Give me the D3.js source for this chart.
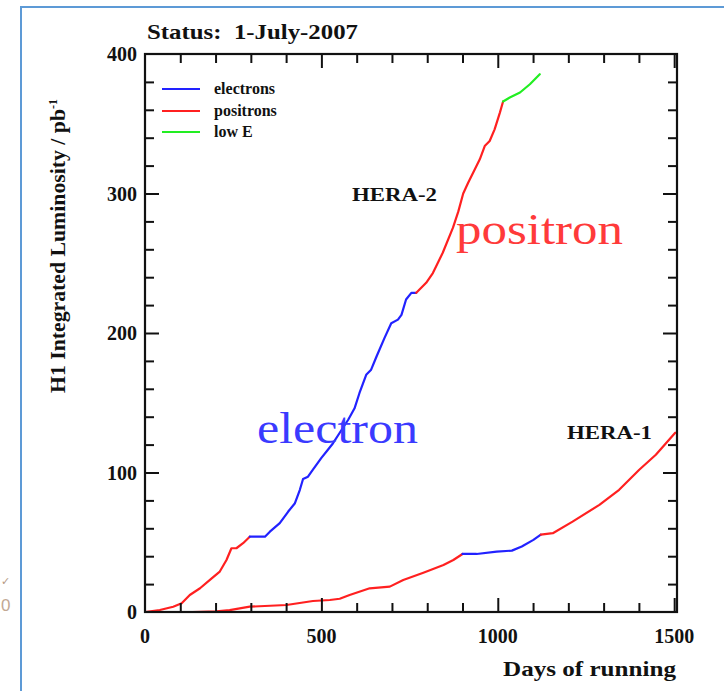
<!DOCTYPE html>
<html>
<head>
<meta charset="utf-8">
<script src="https://cdn.jsdelivr.net/npm/d3@7"></script>
<style>
  html, body { margin: 0; padding: 0; background: #ffffff; }
  svg { display: block; }
</style>
</head>
<body>
<script>
// ---------------- data ----------------
// [days of running, integrated luminosity (pb^-1)]
const hera2PositronsA = [[0,0],[42,1.4],[80,3.8],[104,6.2],[127,12.2],[156,17],[184,23],[212,29],[231,37.3],[245,45.7],[259,45.7],[278,49.3],[297,54]];
const hera2Electrons = [[297,54],[340,54],[354,57.6],[382,63.7],[406,72],[425,78],[439,87.6],[448,95.3],[462,97],[476,102],[500,110.5],[519,116.5],[533,121],[552,128.5],[576,137.8],[594,146],[608,157],[627,170],[641,173.7],[656,183],[679,196.5],[698,207],[717,209.6],[727,213],[740,224],[755,228.8],[769,228.8]];
const hera2PositronsB = [[769,228.8],[797,236],[816,243],[844,257.5],[873,275.5],[888,287],[902,300],[916,307.7],[935,317.3],[949,324.5],[963,334],[977,337.6],[991,346],[1006,358],[1015,366]];
const hera2LowE = [[1015,366],[1034,368.8],[1063,372.4],[1091,378.3],[1119,385.5]];

const hera1ElectronsA = [[0,0],[135,0]];
const hera1PositronsA = [[135,0],[203,0.5],[240,1.4],[297,3.8],[401,5],[476,7.9],[524,8.6],[552,9.5],[580,12.2],[637,17],[694,18.2],[732,23],[789,28.2],[846,33.7],[874,37.3],[900,41.6]];
const hera1ElectronsB = [[900,41.6],[940,41.6],[997,43.3],[1040,44],[1068,46.9],[1101,51.7],[1122,55.5]];
const hera1PositronsB = [[1122,55.5],[1156,56.5],[1212,64.8],[1288,76.8],[1344,87.6],[1401,102],[1448,112.7],[1503,128.5]];

const xMajorTicks = [0, 500, 1000, 1500];
const yMajorTicks = [0, 100, 200, 300, 400];
const legendLabels = ["electrons", "positrons", "low E"];
const titleText = "Status:\u00a0 1-July-2007";
const xTitle = "Days of running";
const yTitle = "H1 Integrated Luminosity / pb";

// ---------------- layout ----------------
const W = 724, H = 691;
const colors = { electrons: "#2222ff", positrons: "#ff2020", lowE: "#22ee22" };

const svg = d3.select("body").append("svg")
  .attr("width", W).attr("height", H)
  .attr("viewBox", `0 0 ${W} ${H}`);

svg.append("rect").attr("width", W).attr("height", H).attr("fill", "#fff");

// outer light-blue frame (slide border)
svg.append("path")
  .attr("d", `M${W + 5},7 H21 V${H + 5}`)
  .attr("fill", "none").attr("stroke", "#5d9ad6").attr("stroke-width", 2);

// stray glyphs at far left (neighbouring content)
svg.append("text").attr("x", 1).attr("y", 585).text("\u2713")
  .attr("font-family", "DejaVu Sans").attr("font-size", 11).attr("fill", "#b69a86");
svg.append("text").attr("x", 1).attr("y", 611).text("0")
  .attr("font-family", "Liberation Sans").attr("font-size", 17).attr("fill", "#c2a894");

const x = d3.scaleLinear().domain([0, 1508]).range([145, 677]);
const y = d3.scaleLinear().domain([0, 400]).range([612, 54]);

const serif = "'Liberation Serif', 'Times New Roman', serif";

// curves
const line = d3.line().x(d => x(d[0])).y(d => y(d[1]));
const segs = [
  [hera1ElectronsA, colors.electrons, 0.45],
  [hera2PositronsA, colors.positrons, 1],
  [hera2Electrons, colors.electrons, 1],
  [hera2PositronsB, colors.positrons, 1],
  [hera2LowE, colors.lowE, 1],
  [hera1PositronsA, colors.positrons, 1],
  [hera1ElectronsB, colors.electrons, 1],
  [hera1PositronsB, colors.positrons, 1]
];
svg.append("g").selectAll("path").data(segs).join("path")
  .attr("d", d => line(d[0]))
  .attr("fill", "none")
  .attr("stroke", d => d[1])
  .attr("stroke-opacity", d => d[2])
  .attr("stroke-width", 2.2)
  .attr("stroke-linejoin", "round")
  .attr("stroke-linecap", "round");

// frame with inward ticks on all four sides
svg.append("rect")
  .attr("x", x(0)).attr("y", y(400))
  .attr("width", x.range()[1] - x(0)).attr("height", y(0) - y(400))
  .attr("fill", "none").attr("stroke", "#111").attr("stroke-width", 2.2);

const majorLen = 14, minorLen = 9;
const xTicksAll = d3.range(0, 1501, 100);
const yTicksAll = d3.range(0, 401, 20);

const gB = svg.append("g").attr("transform", `translate(0,${y(0)})`)
  .call(d3.axisBottom(x).tickValues(xTicksAll).tickFormat("").tickSizeOuter(0));
const gT = svg.append("g").attr("transform", `translate(0,${y(400)})`)
  .call(d3.axisTop(x).tickValues(xTicksAll).tickFormat("").tickSizeOuter(0));
const gL = svg.append("g").attr("transform", `translate(${x(0)},0)`)
  .call(d3.axisLeft(y).tickValues(yTicksAll).tickFormat("").tickSizeOuter(0));
const gR = svg.append("g").attr("transform", `translate(${x.range()[1]},0)`)
  .call(d3.axisRight(y).tickValues(yTicksAll).tickFormat("").tickSizeOuter(0));

[gB, gT, gL, gR].forEach(g => {
  g.select(".domain").remove();
  g.selectAll(".tick line").attr("stroke", "#111").attr("stroke-width", 2);
});
gB.selectAll(".tick line").attr("y2", d => d % 500 === 0 ? -majorLen : -minorLen);
gT.selectAll(".tick line").attr("y2", d => d % 500 === 0 ? majorLen : minorLen);
gL.selectAll(".tick line").attr("x2", d => d % 100 === 0 ? majorLen : minorLen);
gR.selectAll(".tick line").attr("x2", d => d % 100 === 0 ? -majorLen : -minorLen);
gL.selectAll(".tick").filter(d => d === 0 || d === 400).remove();
gR.selectAll(".tick").filter(d => d === 0 || d === 400).remove();
gB.selectAll(".tick").filter(d => d === 0).remove();
gT.selectAll(".tick").filter(d => d === 0).remove();

// tick labels
svg.append("g").selectAll("text").data(xMajorTicks).join("text")
  .attr("x", d => x(d)).attr("y", 643)
  .attr("text-anchor", "middle")
  .attr("font-family", serif).attr("font-weight", "bold").attr("font-size", 20)
  .attr("fill", "#111").text(d => d);
svg.append("g").selectAll("text").data(yMajorTicks).join("text")
  .attr("x", 137).attr("y", d => y(d) + 7)
  .attr("text-anchor", "end")
  .attr("font-family", serif).attr("font-weight", "bold").attr("font-size", 20)
  .attr("fill", "#111").text(d => d);

// titles
svg.append("text").attr("x", 147).attr("y", 39)
  .attr("font-family", serif).attr("font-weight", "bold").attr("font-size", 21)
  .attr("textLength", 211).attr("lengthAdjust", "spacingAndGlyphs")
  .attr("fill", "#111").text(titleText);

svg.append("text").attr("x", 503).attr("y", 676)
  .attr("font-family", serif).attr("font-weight", "bold").attr("font-size", 22)
  .attr("textLength", 173).attr("lengthAdjust", "spacingAndGlyphs")
  .attr("fill", "#111").text(xTitle);

const yt = svg.append("text")
  .attr("transform", `translate(65,${393}) rotate(-90)`)
  .attr("font-family", serif).attr("font-weight", "bold").attr("font-size", 20)
  .attr("fill", "#111");
yt.append("tspan").attr("textLength", 284).attr("lengthAdjust", "spacingAndGlyphs").text(yTitle);
yt.append("tspan").attr("dy", -8).attr("font-size", 12).text("-1");

// legend
const leg = svg.append("g");
const legColors = [colors.electrons, colors.positrons, colors.lowE];
const legY = [89, 111, 132];
leg.selectAll("line").data(legendLabels).join("line")
  .attr("x1", 162).attr("x2", 200)
  .attr("y1", (d, i) => legY[i]).attr("y2", (d, i) => legY[i])
  .attr("stroke", (d, i) => legColors[i]).attr("stroke-width", 2.2);
leg.selectAll("text").data(legendLabels).join("text")
  .attr("x", 214).attr("y", (d, i) => legY[i] + 5)
  .attr("font-family", serif).attr("font-weight", "bold").attr("font-size", 16)
  .attr("fill", "#111").text(d => d);

// annotations
svg.append("text").attr("x", 352).attr("y", 201)
  .attr("font-family", serif).attr("font-weight", "bold").attr("font-size", 19)
  .attr("textLength", 85).attr("lengthAdjust", "spacingAndGlyphs")
  .attr("fill", "#111").text("HERA-2");
svg.append("text").attr("x", 567).attr("y", 439)
  .attr("font-family", serif).attr("font-weight", "bold").attr("font-size", 19)
  .attr("textLength", 85).attr("lengthAdjust", "spacingAndGlyphs")
  .attr("fill", "#111").text("HERA-1");
svg.append("text").attr("x", 456).attr("y", 244)
  .attr("font-family", serif).attr("font-size", 44)
  .attr("textLength", 167).attr("lengthAdjust", "spacingAndGlyphs")
  .attr("fill", "#ff3a3a").text("positron");
svg.append("text").attr("x", 257).attr("y", 443)
  .attr("font-family", serif).attr("font-size", 44)
  .attr("textLength", 161).attr("lengthAdjust", "spacingAndGlyphs")
  .attr("fill", "#3a3aff").text("electron");
</script>
</body>
</html>
